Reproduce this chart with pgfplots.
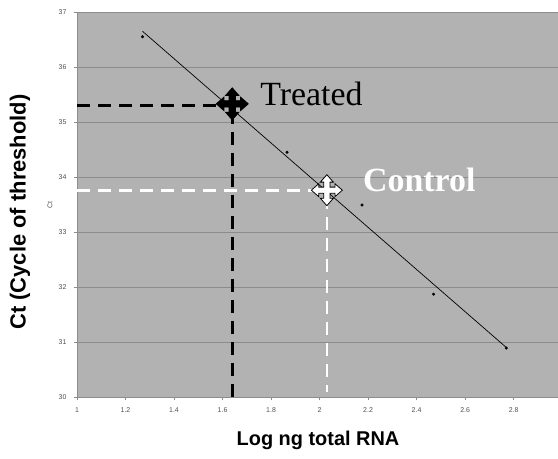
\documentclass[border=0pt]{standalone}
\usepackage{fontspec}
\setmainfont{Liberation Sans}
\newfontfamily\timesfont{Liberation Serif}
\usepackage{pgfplots}
\pgfplotsset{compat=1.18}
\definecolor{bgray}{RGB}{178,178,178}
\definecolor{ggray}{RGB}{140,140,140}
\definecolor{tgray}{RGB}{80,80,80}
\pgfdeclareplotmark{acr}{%
  \def\a{\pgfplotmarksize}%
  \pgfpathmoveto{\pgfqpoint{0.2\a}{0.2\a}}%
  \pgfpathlineto{\pgfqpoint{0.2\a}{0.52\a}}%
  \pgfpathlineto{\pgfqpoint{0.42\a}{0.52\a}}%
  \pgfpathlineto{\pgfqpoint{0\a}{1\a}}%
  \pgfpathlineto{\pgfqpoint{-0.42\a}{0.52\a}}%
  \pgfpathlineto{\pgfqpoint{-0.2\a}{0.52\a}}%
  \pgfpathlineto{\pgfqpoint{-0.2\a}{0.2\a}}%
  \pgfpathlineto{\pgfqpoint{-0.52\a}{0.2\a}}%
  \pgfpathlineto{\pgfqpoint{-0.52\a}{0.42\a}}%
  \pgfpathlineto{\pgfqpoint{-1\a}{0\a}}%
  \pgfpathlineto{\pgfqpoint{-0.52\a}{-0.42\a}}%
  \pgfpathlineto{\pgfqpoint{-0.52\a}{-0.2\a}}%
  \pgfpathlineto{\pgfqpoint{-0.2\a}{-0.2\a}}%
  \pgfpathlineto{\pgfqpoint{-0.2\a}{-0.52\a}}%
  \pgfpathlineto{\pgfqpoint{-0.42\a}{-0.52\a}}%
  \pgfpathlineto{\pgfqpoint{0\a}{-1\a}}%
  \pgfpathlineto{\pgfqpoint{0.42\a}{-0.52\a}}%
  \pgfpathlineto{\pgfqpoint{0.2\a}{-0.52\a}}%
  \pgfpathlineto{\pgfqpoint{0.2\a}{-0.2\a}}%
  \pgfpathlineto{\pgfqpoint{0.52\a}{-0.2\a}}%
  \pgfpathlineto{\pgfqpoint{0.52\a}{-0.42\a}}%
  \pgfpathlineto{\pgfqpoint{1\a}{0\a}}%
  \pgfpathlineto{\pgfqpoint{0.52\a}{0.42\a}}%
  \pgfpathlineto{\pgfqpoint{0.52\a}{0.2\a}}%
  \pgfpathclose
  \pgfusepathqfillstroke}
\begin{document}
\begin{tikzpicture}
\path[use as bounding box] (-77bp,-62bp) rectangle (481bp,397bp);
\begin{axis}[
  scale only axis,
  width=481bp, height=385bp,
  xmin=1, xmax=2.983, ymin=30, ymax=37,
  xtick={1,1.2,...,2.81}, ytick={30,...,37},
  xticklabels={1,1.2,1.4,1.6,1.8,2,2.2,2.4,2.6,2.8},
  axis background/.style={fill=bgray},
  axis x line*=bottom, axis y line*=left,
  axis line style={ggray, line width=0.8pt, -},
  ymajorgrids, grid style={ggray, line width=0.8pt},
  tick style={ggray, line width=0.6pt}, tick align=outside,
  major tick length=3bp,
  ticklabel style={font=\fontsize{7}{8}\selectfont, text=tgray},
  yticklabel style={xshift=-4bp},
  xticklabel style={yshift=-4bp},
  /pgf/number format/assume math mode=true,
  clip=false,
]
% dashed guide lines
\addplot[black, line width=3.2pt, dash pattern=on 13bp off 8bp] coordinates {(1,35.3) (1.62,35.3)};
\addplot[black, line width=3.2pt, dash pattern=on 13bp off 8bp] coordinates {(1.64,35.2) (1.64,30)};
\addplot[white, line width=2.6pt, dash pattern=on 13bp off 8bp] coordinates {(1,33.75) (2.0,33.75)};
\addplot[white, line width=2.6pt, dash pattern=on 13bp off 8bp] coordinates {(2.03,33.65) (2.03,30.1)};
% trend line
\addplot[black, line width=0.7pt] coordinates {(1.27,36.65) (2.77,30.9)};
% data points
\addplot[only marks, mark=*, mark size=1.3pt, black] coordinates {
  (1.27,36.55) (1.62,35.35) (1.866,34.45) (2.175,33.49) (2.47,31.87) (2.77,30.89)};
% markers
\addplot[only marks, mark=acr, mark size=16bp, mark options={fill=black, draw=black, line width=0.8pt}] coordinates {(1.64,35.33)};
\addplot[only marks, mark=acr, mark size=15.5bp, mark options={fill=white, draw=black, line width=0.8pt}] coordinates {(2.03,33.76)};
\node[anchor=base west, inner sep=0pt, font=\timesfont\fontsize{34}{34}\selectfont] at (axis cs:1.755,35.3) {Treated};
\node[anchor=base west, inner sep=0pt, text=white, font=\timesfont\bfseries\fontsize{34}{34}\selectfont] at (axis cs:2.179,33.73) {Control};
\end{axis}
\node[rotate=90, font=\bfseries\fontsize{22}{22}\selectfont] at (-57bp,185bp) {Ct (Cycle of threshold)};
\node[font=\bfseries\fontsize{20}{20}\selectfont] at (241bp,-43bp) {Log ng total RNA};
\node[rotate=90, font=\fontsize{7}{8}\selectfont, text=tgray] at (-27bp,192bp) {Ct};
\end{tikzpicture}
\end{document}
